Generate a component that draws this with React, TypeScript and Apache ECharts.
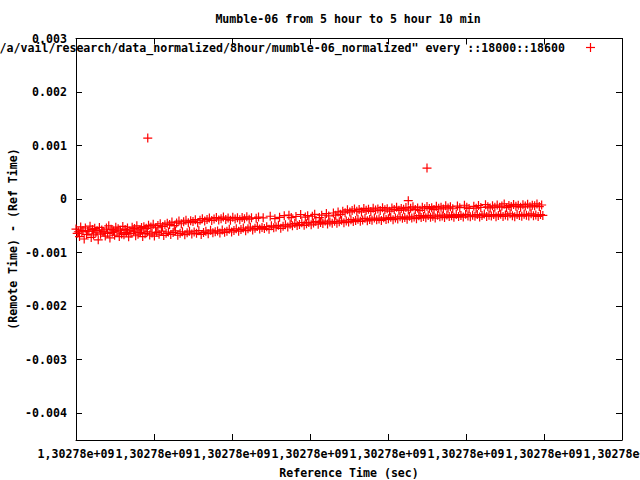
import React, { useEffect, useRef } from "react";
import * as echarts from "echarts";

// Sample spacing (seconds) within each band
const STEP = 3;
// Upper band (microseconds), t = 0, 3, 6, ... (null = no sample shown)
const upperBand: (number | null)[] = [
  -560, -610, -520, -585, -540, -600, -505, -570, -545, -590,
  -530, -575, -615, -540, -500, -565, -595, -525, -555, -580,
  -510, -570, -540, -595, -525, -550, -500, -575, -530, -515,
  -545, -490, -520, -470, -535, -495, -460, -510, -480, -450,
  -475, -430, -495, -445, -410, -460, -425, -395, -440, -405,
  -420, -385, -440, -395, -365, -410, -380, -355, -400, -370,
  -345, -390, -365, -335, -380, -355, -395, -340, -370, -350,
  -385, -345, -365, -330, -375, -350, null, -360, -335, null,
  -350, null, null, -320, null, -365, null, -340, null, -310,
  null, -300, -345, null, -325, null, -290, null, -335, -310,
  null, -320, -285, null, -345, -300, null, -270, -315, null,
  -260, -300, -240, -285, -225, -255, -200, -240, -215, -185,
  -225, -195, -240, -175, -210, -190, -230, -170, -205, -185,
  -215, -160, -200, -180, -225, -165, -195, -150, -210, -175,
  -190, -155, -205, -170, -145, -195, -165, -210, -150, -180,
  -140, -175, -160, -195, -135, -170, -150, -185, -125, -165,
  -145, -180, null, -130, -160, null, -115, -150, -175, null,
  -135, -170, -120, -155, null, -105, -145, -165, -125, -150,
  -110, -150, -130, -90, -160, -120, -140, -100, -135, -115,
  -150, -105, -130, -95, -145, -115, -125, -90, -140, -110,
];
// Lower band (microseconds), t = 1.5, 4.5, 7.5, ...
const lowerBand: number[] = [
  -640, -700, -610, -745, -660, -600, -715, -670, -630, -760,
  -655, -610, -690, -640, -725, -620, -675, -600, -700, -650,
  -665, -625, -705, -640, -600, -685, -655, -620, -700, -645,
  -610, -670, -635, -690, -620, -655, -600, -680, -640, -615,
  -660, -625, -595, -675, -640, -610, -665, -630, -600, -650,
  -615, -640, -590, -660, -625, -600, -645, -580, -630, -610,
  -595, -635, -575, -620, -600, -565, -615, -585, -555, -600,
  -570, -540, -590, -555, -525, -575, -545, -510, -560, -530,
  -550, -515, -565, -500, -535, -520, -490, -545, -505, -480,
  -520, -470, -500, -455, -495, -475, -440, -490, -460, -435,
  -480, -445, -420, -470, -435, -455, -410, -465, -430, -450,
  -415, -450, -425, -395, -440, -410, -430, -385, -420, -400,
  -375, -415, -390, -360, -405, -380, -395, -355, -385, -370,
  -400, -350, -380, -365, -340, -385, -355, -370, -330, -360,
  -345, -375, -320, -355, -335, -365, -310, -345, -325, -350,
  -305, -340, -320, -355, -300, -330, -315, -345, -295, -325,
  -310, -340, -290, -325, -305, -335, -285, -315, -330, -300,
  -320, -290, -335, -305, -280, -325, -300, -315, -290, -330,
  -305, -285, -325, -295, -315, -275, -310, -330, -290, -305,
  -320, -285, -300, -315, -275, -310, -295, -325, -290, -305,
];
// Individual points [seconds, microseconds]
const extraPoints: [number, number][] = [
  [92, 1140], [450, 580], [426, -30],
];

const xLabelsEven = [0, 200, 400, 600];
const xLabelsOdd = [100, 300, 500, 700];
const yTickValues = [-0.004, -0.003, -0.002, -0.001, 0, 0.001, 0.002, 0.003];
const xTickLabel = "1,30278e+09";
const titleText = "Mumble-06 from 5 hour to 5 hour 10 min";
const legendText = '/a/vail/research/data_normalized/8hour/mumble-06_normalized" every ::18000::18600';
const xName = "Reference Time (sec)";
const yName = "(Remote Time) - (Ref Time)";

const FONT = "DejaVu Sans Mono";
const FS = 11.6;

export default function App() {
  const ref = useRef<HTMLDivElement>(null);
  useEffect(() => {
    if (!ref.current) return;
    const chart = echarts.init(ref.current, undefined, { renderer: "svg" });
    const data: [number, number][] = [];
    upperBand.forEach((v, i) => {
      if (v !== null) data.push([i * STEP, v / 1e6]);
    });
    lowerBand.forEach((v, i) => data.push([i * STEP + STEP / 2, v / 1e6]));
    extraPoints.forEach(([t, v]) => data.push([t, v / 1e6]));

    const labelStyle = { fontFamily: FONT, fontSize: FS, fontWeight: "bold" as const, color: "#000" };
    const font = `bold ${FS}px "${FONT}"`;
    const plus = "path://M0,3.9H3.9V0H5.1V3.9H9V5.1H5.1V9H3.9V5.1H0Z";
    const xBase = { type: "value" as const, min: 0, max: 700, interval: 100, splitLine: { show: false } };
    const yBase = { type: "value" as const, min: -0.0045, max: 0.003, splitLine: { show: false } };
    const line = { show: true, onZero: false, lineStyle: { color: "#000", width: 1 } };
    const tick = { show: true, inside: true, length: 6, lineStyle: { color: "#000" } };

    chart.setOption({
      animation: false,
      backgroundColor: "#fff",
      grid: { left: 76, right: 18, top: 38.5, bottom: 40, containLabel: false, outerBoundsMode: "none" },
      xAxis: [
        {
          ...xBase,
          position: "bottom",
          axisLine: line,
          axisTick: tick,
          axisLabel: { ...labelStyle, formatter: () => xTickLabel, margin: 8, customValues: xLabelsEven, hideOverlap: false },
        },
        {
          ...xBase,
          position: "bottom",
          axisLine: { show: false },
          axisTick: { show: false },
          axisLabel: { ...labelStyle, formatter: () => xTickLabel, margin: 8, customValues: xLabelsOdd, hideOverlap: false },
        },
        {
          ...xBase,
          position: "top",
          axisLine: line,
          axisTick: tick,
          axisLabel: { show: false },
        },
      ],
      yAxis: [
        {
          ...yBase,
          position: "left",
          axisLine: line,
          axisTick: { ...tick, customValues: yTickValues },
          axisLabel: {
            ...labelStyle,
            margin: 9,
            customValues: yTickValues,
            formatter: (v: number) => (Math.abs(v) < 1e-12 ? "0" : v.toFixed(3)),
          },
        },
        {
          ...yBase,
          position: "right",
          axisLine: line,
          axisTick: { ...tick, customValues: yTickValues },
          axisLabel: { show: false, customValues: yTickValues },
        },
      ],
      series: [
        {
          type: "scatter",
          xAxisIndex: 0,
          yAxisIndex: 0,
          data,
          symbol: plus,
          symbolSize: 9,
          itemStyle: { color: "#ff0000", opacity: 1 },
          emphasis: { disabled: true },
          silent: true,
        },
      ],
      graphic: [
        {
          type: "text",
          x: 348,
          y: 19,
          style: { text: titleText, fill: "#000", align: "center", verticalAlign: "middle", font },
        },
        {
          type: "text",
          x: 565,
          y: 48,
          style: { text: legendText, fill: "#000", align: "right", verticalAlign: "middle", font },
        },
        {
          type: "text",
          x: 349,
          y: 473,
          style: { text: xName, fill: "#000", align: "center", verticalAlign: "middle", font },
        },
        {
          type: "text",
          x: 13,
          y: 239,
          rotation: Math.PI / 2,
          style: { text: yName, fill: "#000", align: "center", verticalAlign: "middle", font },
        },
        { type: "line", shape: { x1: 586, y1: 47.5, x2: 595, y2: 47.5 }, style: { stroke: "#ff0000", lineWidth: 1.2 } },
        { type: "line", shape: { x1: 590.5, y1: 43, x2: 590.5, y2: 52 }, style: { stroke: "#ff0000", lineWidth: 1.2 } },
      ],
    });
    return () => chart.dispose();
  }, []);
  return <div ref={ref} style={{ width: 640, height: 480, position: "absolute", left: 0, top: 0 }} />;
}
